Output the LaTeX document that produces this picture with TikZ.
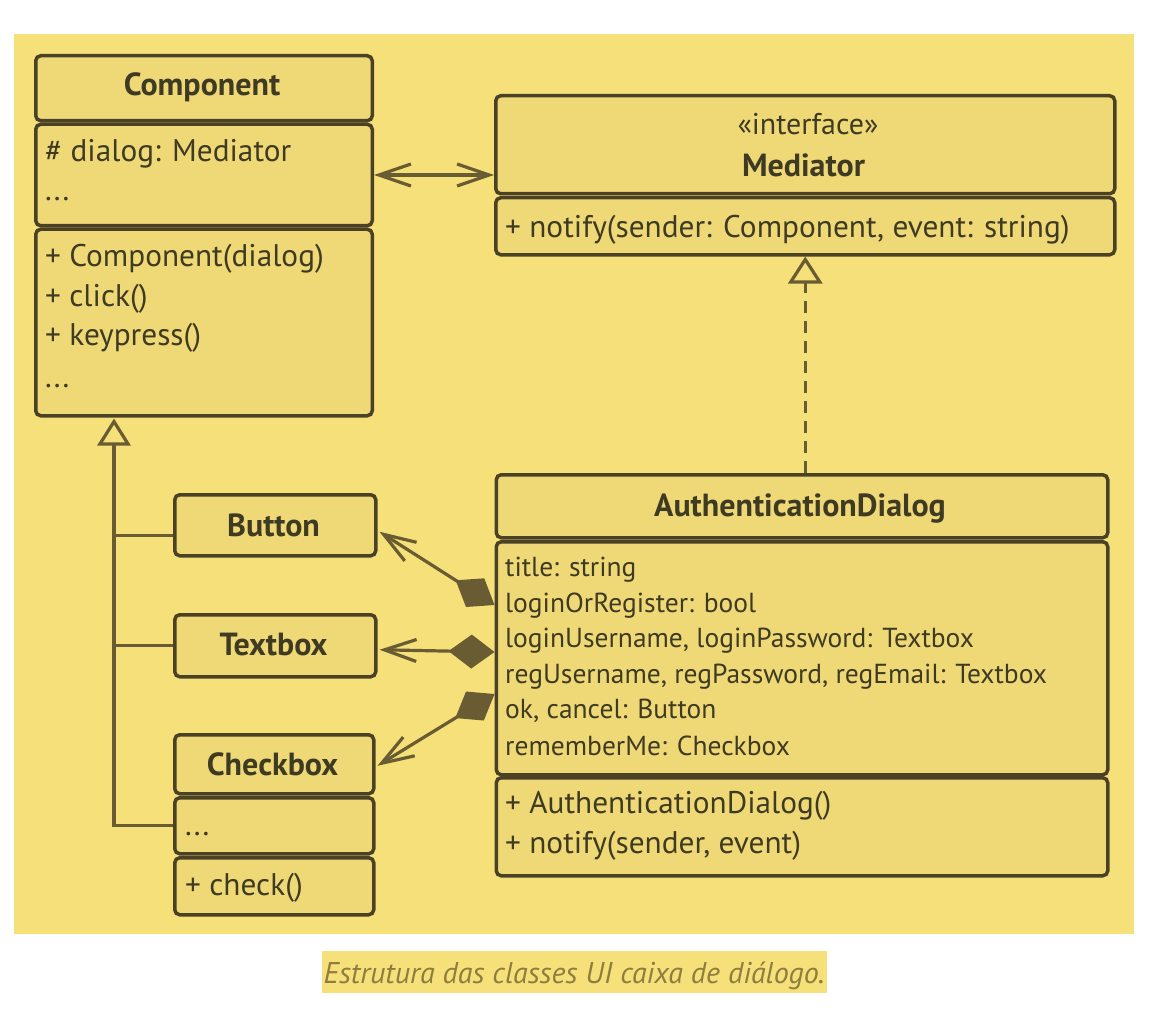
\documentclass[tikz,border=0pt]{standalone}
\usepackage{fontspec}
\setmainfont{PT Sans}
\usetikzlibrary{arrows.meta}
\definecolor{bgc}{HTML}{F6E07A}
\definecolor{boxc}{HTML}{EFD977}
\definecolor{linec}{HTML}{4B4226}
\definecolor{conc}{HTML}{6A5C32}
\definecolor{textc}{HTML}{3F3A22}
\definecolor{capc}{HTML}{8E7D3E}
\newcommand\fsz[1]{\fontsize{#1pt}{#1pt}\selectfont}
\begin{document}
\begin{tikzpicture}[x=1pt,y=-1pt,
  box/.style={draw=linec, fill=boxc, line width=3.5pt, rounded corners=5pt, inner sep=0pt, anchor=north west},
  txt/.style={anchor=base west, inner sep=0pt, font=\fsz{31.3}, text=textc},
  stxt/.style={txt, font=\fsz{27.5}},
  ttl/.style={anchor=base, inner sep=0pt, font=\bfseries\fsz{32}, text=textc},
  conn/.style={color=conc, line width=3.2pt},
]
\useasboundingbox (0,0) rectangle (1174,1024);
\fill[white] (0,0) rectangle (1174,1024);
\node[fill=bgc, inner sep=0pt, anchor=north west, minimum width=1120pt, minimum height=900pt] (bg) at (14,34) {};

% Component
\node[box, minimum width=336.5pt, minimum height=65pt] (compH) at (34,54) {};
\node[box, minimum width=336.5pt, minimum height=101.5pt] (compA) at (34,122.5) {};
\node[box, minimum width=336.5pt, minimum height=186.5pt] (compO) at (34,227.5) {};
\node[ttl] (compT) at (202,96) {Component};
\node[txt] (compA1) at (45,161.5) {\# dialog: Mediator};
\node[txt] (compA2) at (45,201) {...};
\node[txt] (compO1) at (45,266.5) {+ Component(dialog)};
\node[txt] (compO2) at (45,306.5) {+ click()};
\node[txt] (compO3) at (45,345) {+ keypress()};
\node[txt] (compO4) at (45,387) {...};

% Mediator
\node[box, minimum width=619pt, minimum height=98pt] (medH) at (494,94) {};
\node[box, minimum width=619pt, minimum height=57pt] (medO) at (494,196) {};
\node[anchor=base, inner sep=0pt, font=\fsz{30}, text=textc] (medS) at (808,135) {«interface»};
\node[ttl] (medT) at (803.5,177) {Mediator};
\node[txt] (medO1) at (505,237) {+ notify(sender: Component, event: string)};

% AuthenticationDialog
\node[box, minimum width=611.5pt, minimum height=63pt] (authH) at (494.5,473) {};
\node[box, minimum width=611.5pt, minimum height=233pt] (authA) at (494.5,540) {};
\node[box, minimum width=611.5pt, minimum height=98pt] (authO) at (494.5,776) {};
\node[ttl] (authT) at (800,516) {AuthenticationDialog};
\node[stxt] (authA1) at (505,576) {title: string};
\node[stxt] (authA2) at (505,612) {loginOrRegister: bool};
\node[stxt] (authA3) at (505,647) {loginUsername, loginPassword: Textbox};
\node[stxt] (authA4) at (505,683) {regUsername, regPassword, regEmail: Textbox};
\node[stxt] (authA5) at (505,718) {ok, cancel: Button};
\node[stxt] (authA6) at (505,755) {rememberMe: Checkbox};
\node[txt] (authO1) at (505,813) {+ AuthenticationDialog()};
\node[txt] (authO2) at (505,853) {+ notify(sender, event)};

% Button, Textbox, Checkbox
\node[box, minimum width=201pt, minimum height=61pt] (btn) at (173,493) {};
\node[ttl] (btnT) at (273.5,536) {Button};
\node[box, minimum width=201pt, minimum height=62pt] (tbx) at (173,613) {};
\node[ttl] (tbxT) at (273.5,655) {Textbox};
\node[box, minimum width=199pt, minimum height=59pt] (cbH) at (173,733) {};
\node[box, minimum width=199pt, minimum height=56pt] (cbA) at (173,796) {};
\node[box, minimum width=199pt, minimum height=57pt] (cbO) at (173,856) {};
\node[ttl] (cbT) at (272.5,775) {Checkbox};
\node[txt] (cbA1) at (185,835) {...};
\node[txt] (cbO1) at (185,895) {+ check()};

% Association Component <-> Mediator
\draw[conn, {Straight Barb[length=32pt,width=22pt]}-{Straight Barb[length=32pt,width=22pt]}]
  (compA.east) -- (compA.east -| medH.west);

% Realization
\draw[conn, dash pattern=on 12pt off 8pt, -{Triangle[open,length=27pt,width=34pt]}]
  (authH.north -| medO.south) -- (medO.south);

% Generalization
\coordinate (inh) at (114,0);
\coordinate (btnL) at ([yshift=-10.5pt]btn.west);
\draw[conn, -{Triangle[open,length=27pt,width=33pt]}]
  (cbA.west) -| ([yshift=-1pt]compO.south -| inh);
\draw[conn] (btnL) -- (btnL -| inh);
\draw[conn] (tbx.west) -- (tbx.west -| inh);

% Compositions
\coordinate (btnTip) at ([xshift=2pt,yshift=-6.5pt]btn.east);
\coordinate (tbxTip) at ([xshift=2pt,yshift=-4pt]tbx.east);
\coordinate (cbTip) at ([xshift=2pt,yshift=-1.5pt]cbH.east);
\coordinate (btnSrc) at (authA.west |- 0,605);
\coordinate (tbxSrc) at (authA.west |- 0,652);
\coordinate (cbSrc) at (authA.west |- 0,694);
\draw[conn, {Diamond[length=46pt,width=34pt]}-{Straight Barb[length=32pt,width=22pt]}] (btnSrc) -- (btnTip);
\draw[conn, {Diamond[length=46pt,width=34pt]}-{Straight Barb[length=32pt,width=22pt]}] (tbxSrc) -- (tbxTip);
\draw[conn, {Diamond[length=46pt,width=34pt]}-{Straight Barb[length=32pt,width=22pt]}] (cbSrc) -- (cbTip);

% Caption
\node[fill=bgc, inner sep=0pt, anchor=north west, minimum width=505pt, minimum height=42pt] (capbg) at (322,951) {};
\node[anchor=base west, inner sep=0pt, font=\itshape\fsz{30}, text=capc] (cap) at (323.5,983) {Estrutura das classes UI caixa de diálogo.};
\end{tikzpicture}
\end{document}
